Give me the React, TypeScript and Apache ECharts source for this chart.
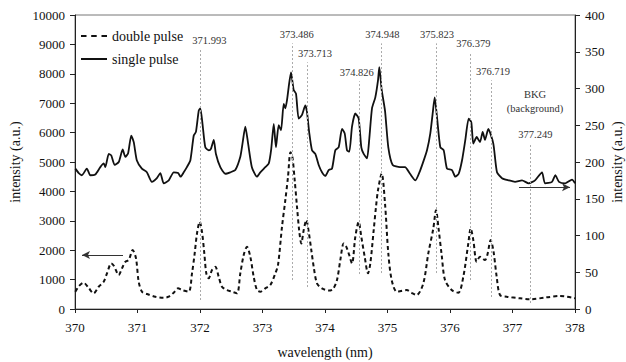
import { useEffect, useRef } from "react";
import * as echarts from "echarts";

// Double pulse (left axis, a.u.)
const doubleWl = [
  370.005, 370.064, 370.139, 370.208, 370.299, 370.379, 370.459, 370.512, 370.581, 370.624,
  370.699, 370.752, 370.805, 370.859, 370.923, 370.976, 371.019, 371.072, 371.152, 371.285,
  371.419, 371.499, 371.579, 371.648, 371.712, 371.819, 371.872, 371.915, 371.952, 371.995,
  372.032, 372.069, 372.101, 372.139, 372.192, 372.245, 372.299, 372.352, 372.432, 372.512,
  372.592, 372.645, 372.699, 372.752, 372.805, 372.859, 372.912, 372.965, 373.045, 373.125,
  373.205, 373.248, 373.312, 373.365, 373.408, 373.448, 373.477, 373.515, 373.552, 373.589,
  373.621, 373.659, 373.701, 373.739, 373.781, 373.819, 373.872, 373.952, 374.059, 374.128,
  374.192, 374.245, 374.299, 374.336, 374.379, 374.432, 374.485, 374.539, 374.581, 374.635,
  374.688, 374.725, 374.779, 374.816, 374.848, 374.907, 374.96, 375.013, 375.067, 375.147,
  375.216, 375.307, 375.392, 375.467, 375.573, 375.653, 375.733, 375.776, 375.816, 375.867,
  375.92, 376.027, 376.133, 376.213, 376.293, 376.331, 376.373, 376.427, 376.48, 376.56,
  376.597, 376.651, 376.693, 376.747, 376.8, 376.907, 377.12, 377.28, 377.547, 377.76, 378.0,
];
const doubleVal = [
  588, 781, 893, 747, 533, 757, 927, 1213, 1552, 1460,
  1155, 1382, 1607, 1664, 2004, 1722, 927, 588, 510, 418,
  384, 418, 554, 703, 645, 588, 1213, 1892, 2571, 2965,
  2626, 1892, 1213, 1043, 1325, 1437, 1097, 757, 645, 588,
  533, 1213, 1834, 2116, 1776, 1097, 645, 588, 703, 815,
  1213, 1495, 2796, 3702, 4494, 5333, 5197, 4382, 3475, 2626,
  2232, 2683, 3023, 2626, 2004, 1437, 873, 703, 628, 679,
  985, 1664, 2232, 2140, 1892, 1552, 2456, 2965, 2456, 1776,
  1213, 1552, 2683, 3475, 4042, 4609, 3590, 1892, 985, 588,
  611, 645, 543, 476, 873, 1892, 2741, 3363, 2751, 1834,
  985, 645, 554, 1097, 2232, 2741, 2344, 1607, 1776, 1664,
  1834, 2344, 2004, 1097, 476, 418, 363, 330, 397, 442, 363,
];

// Single pulse (right axis, a.u.)
const singleWl = [
  370.005, 370.06, 370.11, 370.19, 370.245, 370.325, 370.405, 370.46, 370.485, 370.54,
  370.58, 370.635, 370.7, 370.763, 370.805, 370.85, 370.9, 370.94, 370.99, 371.07,
  371.15, 371.23, 371.31, 371.365, 371.42, 371.5, 371.58, 371.65, 371.69, 371.74,
  371.79, 371.845, 371.9, 371.935, 371.98, 372.005, 372.04, 372.085, 372.14, 372.175,
  372.22, 372.255, 372.325, 372.405, 372.485, 372.565, 372.645, 372.68, 372.725, 372.77,
  372.83, 372.91, 372.965, 373.045, 373.1, 373.14, 373.18, 373.215, 373.259, 373.296,
  373.339, 373.365, 373.392, 373.419, 373.456, 373.499, 373.536, 373.579, 373.632, 373.685,
  373.712, 373.749, 373.792, 373.845, 373.899, 373.952, 374.005, 374.059, 374.112, 374.165,
  374.219, 374.272, 374.315, 374.352, 374.389, 374.432, 374.485, 374.539, 374.581, 374.619,
  374.672, 374.709, 374.752, 374.805, 374.848, 374.869, 374.907, 374.96, 375.013, 375.083,
  375.2, 375.28, 375.36, 375.445, 375.525, 375.579, 375.632, 375.685, 375.728, 375.755,
  375.792, 375.845, 375.899, 375.952, 376.032, 376.085, 376.139, 376.192, 376.245, 376.299,
  376.341, 376.373, 376.427, 376.48, 376.523, 376.56, 376.613, 376.693, 376.752, 376.832,
  376.939, 377.04, 377.152, 377.259, 377.36, 377.472, 377.52, 377.632, 377.685, 377.744,
  377.845, 377.952, 378.0,
];
const singleVal = [
  191, 185, 182, 191, 182, 183, 193, 198, 193, 211,
  209, 196, 200, 217, 207, 212, 236, 227, 202, 191,
  186, 173, 178, 185, 171, 175, 186, 185, 180, 186,
  193, 202, 236, 241, 270, 273, 252, 220, 216, 218,
  230, 211, 193, 184, 186, 189, 207, 225, 248, 225,
  193, 180, 186, 193, 198, 218, 252, 220, 250, 243,
  279, 273, 284, 302, 322, 298, 293, 259, 264, 277,
  268, 239, 216, 211, 196, 186, 181, 189, 191, 216,
  220, 245, 239, 216, 214, 248, 266, 259, 220, 211,
  205, 232, 273, 288, 311, 329, 298, 270, 220, 196,
  193, 193, 184, 175, 189, 202, 216, 239, 270, 288,
  261, 220, 216, 191, 189, 180, 184, 202, 230, 259,
  254, 225, 234, 227, 241, 230, 245, 225, 186, 178,
  175, 173, 175, 171, 175, 186, 171, 173, 182, 173,
  171, 176, 171,
];

// Peak annotations: printed label, where the marker line is drawn, line extent (left-axis units)
const peakLabel = ["371.993", "373.486", "373.713", "374.826", "374.948", "375.823", "376.379", "376.719", "377.249"];
const peakPos = [372.005, 373.483, 373.712, 374.555, 374.901, 375.776, 376.325, 376.656, 377.285];
const peakTop = [8832, 9035, 8390, 7745, 9035, 9035, 8730, 7779, 5639];
const peakBottom = [306, 985, 747, 1189, 1223, 1223, 985, 408, 204];

const xMin = 370;
const xMax = 378;
const leftMax = 10000;
const rightMax = 400;

const FONT = "Liberation Serif, Times New Roman, serif";
// horizontal nudge (px) of each peak label relative to its line
const labelNudge = [9, 4, 8, -3, 1, 1, 3, 2, 5];

const DASH_ICON =
  "path://M0,0h0.01v0.01h-0.01z M0,5.9h5.5v2.2h-5.5z M10.2,5.9h5.5v2.2h-5.5z M20.5,5.9h5.5v2.2h-5.5z M25.99,13.99h0.01v0.01h-0.01z";
const SOLID_ICON =
  "path://M0,0h0.01v0.01h-0.01z M0,6h26v2h-26z M25.99,13.99h0.01v0.01h-0.01z";

export default function App() {
  const ref = useRef<HTMLDivElement>(null);
  useEffect(() => {
    if (!ref.current) return;
    const chart = echarts.init(ref.current, undefined, { renderer: "svg" });
    const doubleData = doubleWl.map((w, i) => [w, doubleVal[i]]);
    const singleData = singleWl.map((w, i) => [w, singleVal[i]]);
    const peakLines = peakPos.map((w, i) => {
      const n = labelNudge[i];
      return [
        {
          coord: [w, peakBottom[i]],
          name: peakLabel[i],
          label: { padding: n >= 0 ? [0, 0, 0, 2 * n] : [0, -2 * n, 0, 0] },
        },
        { coord: [w, peakTop[i]] },
      ];
    });
    const plain = (v: number) => String(v);
    chart.setOption({
      animation: false,
      backgroundColor: "#fff",
      textStyle: { fontFamily: FONT },
      grid: {
        left: 75,
        right: 51,
        top: 15,
        bottom: 53,
        show: true,
        borderColor: "#777",
        borderWidth: 1,
        containLabel: false,
        outerBoundsMode: "none",
      },
      legend: {
        data: [
          { name: "double pulse", icon: DASH_ICON },
          { name: "single pulse", icon: SOLID_ICON },
        ],
        orient: "vertical",
        left: 81,
        top: 29,
        padding: 0,
        itemGap: 9,
        itemWidth: 26,
        itemHeight: 14,
        itemStyle: { color: "#111", borderWidth: 0 },
        textStyle: { fontFamily: FONT, fontSize: 14, color: "#111" },
      },
      xAxis: {
        type: "value",
        min: xMin,
        max: xMax,
        interval: 1,
        name: "wavelength (nm)",
        nameLocation: "middle",
        nameGap: 36,
        nameMoveOverlap: false,
        nameTextStyle: { fontFamily: FONT, fontSize: 14, color: "#111" },
        axisLine: { lineStyle: { color: "#222", width: 1 } },
        axisTick: { show: true, length: 4, lineStyle: { color: "#222" } },
        axisLabel: { fontFamily: FONT, fontSize: 13, color: "#111", margin: 12, formatter: plain },
        splitLine: { show: false },
      },
      yAxis: [
        {
          type: "value",
          min: 0,
          max: leftMax,
          interval: 1000,
          name: "intensity (a.u.)",
          nameLocation: "middle",
          nameRotate: 90,
          nameGap: 53,
          nameMoveOverlap: false,
          nameTextStyle: { fontFamily: FONT, fontSize: 14, color: "#111" },
          axisLine: { show: true, lineStyle: { color: "#222", width: 1 } },
          axisTick: { show: true, length: 5, lineStyle: { color: "#222" } },
          axisLabel: { fontFamily: FONT, fontSize: 13, color: "#111", margin: 10, formatter: plain },
          splitLine: { show: false },
        },
        {
          type: "value",
          min: 0,
          max: rightMax,
          interval: 50,
          position: "right",
          name: "intensity (a.u.)",
          nameLocation: "middle",
          nameRotate: 90,
          nameGap: 35,
          nameMoveOverlap: false,
          nameTextStyle: { fontFamily: FONT, fontSize: 14, lineHeight: 14, color: "#111" },
          axisLine: { show: true, lineStyle: { color: "#222", width: 1 } },
          axisTick: { show: true, length: 5, lineStyle: { color: "#222" } },
          axisLabel: { fontFamily: FONT, fontSize: 13, color: "#111", margin: 10, formatter: plain },
          splitLine: { show: false },
        },
      ],
      series: [
        {
          name: "double pulse",
          type: "line",
          yAxisIndex: 0,
          data: doubleData,
          symbol: "none",
          smooth: 0.3,
          lineStyle: { color: "#111", width: 2, type: [4, 3] },
          itemStyle: { color: "#111" },
          z: 3,
          markLine: {
            silent: true,
            symbol: ["none", "none"],
            lineStyle: { color: "#aaa", width: 1, type: [2, 2] },
            label: {
              show: true,
              position: "end",
              distance: 3,
              formatter: (p: any) => p.name,
              fontFamily: FONT,
              fontSize: 10.5,
              color: "#333",
            },
            data: peakLines,
          },
        },
        {
          name: "single pulse",
          type: "line",
          yAxisIndex: 1,
          data: singleData,
          symbol: "none",
          smooth: 0.2,
          lineStyle: { color: "#111", width: 1.8, type: "solid" },
          itemStyle: { color: "#111" },
          z: 3,
        },
        {
          name: "annotations",
          type: "line",
          yAxisIndex: 0,
          data: [],
          markLine: {
            silent: true,
            symbol: ["none", "arrow"],
            symbolSize: [6, 8],
            lineStyle: { color: "#333", width: 1, type: "solid" },
            label: { show: false },
            data: [
              [{ coord: [370.768, 1834] }, { coord: [370.112, 1834] }],
              [{ coord: [377.104, 4144] }, { coord: [377.92, 4144] }],
            ],
          },
          markPoint: {
            silent: true,
            symbol: "rect",
            symbolSize: 1,
            itemStyle: { color: "rgba(0,0,0,0)" },
            label: {
              show: true,
              position: "inside",
              formatter: "BKG\n(background)",
              fontFamily: FONT,
              fontSize: 10.5,
              lineHeight: 14,
              color: "#333",
            },
            data: [{ coord: [377.36, 7070] }],
          },
        },
      ],
    });
    return () => chart.dispose();
  }, []);
  return (
    <div
      ref={ref}
      style={{ position: "absolute", left: 0, top: 0, width: 626, height: 362 }}
    />
  );
}
